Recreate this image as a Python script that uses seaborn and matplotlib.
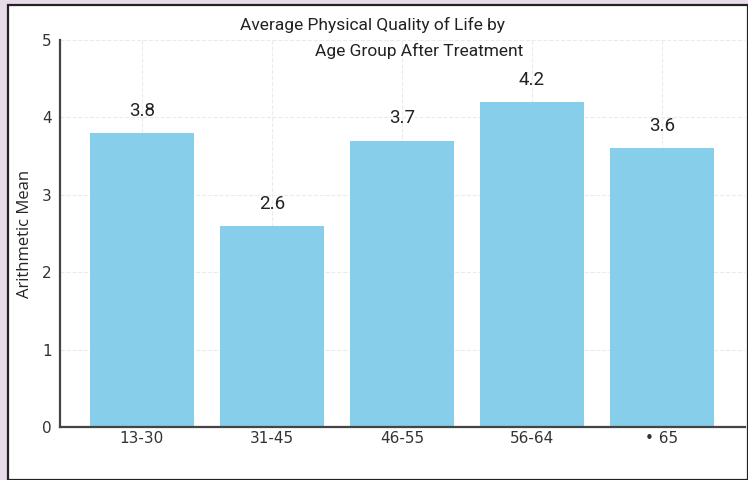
import matplotlib
matplotlib.use("Agg")
import matplotlib.pyplot as plt
from matplotlib.patches import Rectangle
import pandas as pd
import seaborn as sns

# Data
age_groups = ["13-30", "31-45", "46-55", "56-64", "\u2022 65"]
mean_scores = [3.8, 2.6, 3.7, 4.2, 3.6]
y_ticks = [0, 1, 2, 3, 4, 5]

df = pd.DataFrame({"age_group": age_groups, "mean": mean_scores})

sns.set_theme(style="whitegrid")
plt.rcParams["font.family"] = ["DejaVu Sans"]

fig = plt.figure(figsize=(7.48, 4.8), dpi=100)
fig.patch.set_facecolor("#e7dbe9")

# white panel with a dark border
panel = Rectangle((8 / 748, 0), 740 / 748, 475 / 480, transform=fig.transFigure,
                  facecolor="white", edgecolor="#222222", linewidth=1.6, zorder=-5)
fig.patches.append(panel)

ax = fig.add_axes([60 / 748, 53 / 480, 685 / 748, 387 / 480])
ax.set_facecolor("none")

sns.barplot(data=df, x="age_group", y="mean", color="#87ceeb", saturation=1,
            width=0.8, linewidth=0, ax=ax, zorder=2)

for i, v in enumerate(mean_scores):
    ax.text(i, v + 0.17, f"{v:.1f}", ha="center", va="bottom",
            fontsize=13.5, family=["Roboto", "DejaVu Sans"], color="#222222")

ax.set_xlim(-0.63, 4.64)
ax.set_ylim(0, 5)
ax.set_yticks(y_ticks)
ax.set_xlabel("")
ax.set_ylabel("Arithmetic Mean", fontsize=12, family=["Open Sans", "DejaVu Sans"])
ax.yaxis.set_label_coords(-0.04, 0.5)

ax.grid(True, color="#ebebeb", linewidth=0.8, linestyle="--")
ax.set_axisbelow(True)
for side in ["top", "right"]:
    ax.spines[side].set_visible(False)
for side in ["left", "bottom"]:
    ax.spines[side].set_color("#444444")
    ax.spines[side].set_linewidth(1.6)

ax.tick_params(axis="both", labelsize=11, colors="#333333", length=3, width=0.8)
ax.tick_params(axis="x", direction="in", pad=3)
ax.tick_params(axis="y", pad=3)

fig.text(240 / 748, 1 - 30 / 480, "Average Physical Quality of Life by", ha="left", va="baseline",
         fontsize=12.5, family=["Roboto", "DejaVu Sans"], color="#222222")
fig.text(315 / 748, 1 - 56 / 480, "Age Group After Treatment", ha="left", va="baseline",
         fontsize=12.5, family=["Roboto", "DejaVu Sans"], color="#222222")

fig.savefig("out.png", dpi=100, facecolor=fig.get_facecolor())
